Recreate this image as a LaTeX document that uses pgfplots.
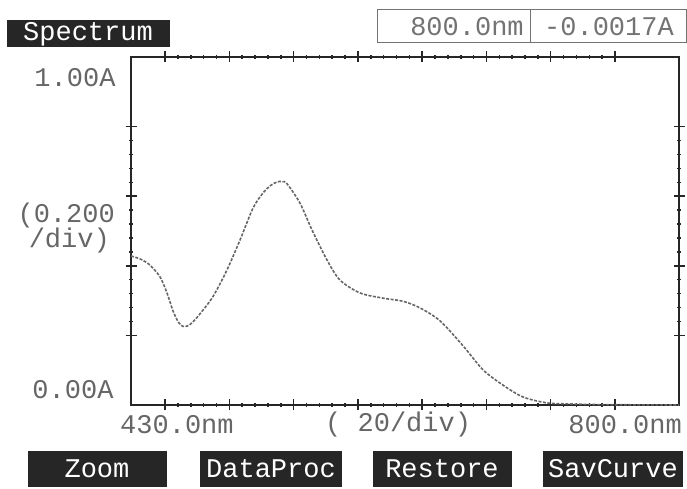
\documentclass[border=0pt]{standalone}
\usepackage{pgfplots}
\pgfplotsset{compat=1.18}
\usepackage{fontspec}
\setmainfont{Liberation Mono}
\setmonofont{Liberation Mono}

% absorbance scan
\pgfplotstableread{
nm     A
430.0  0.428
432.7  0.425
437.0  0.418
442.8  0.402
449.6  0.368
454.3  0.322
458.4  0.270
462.0  0.238
465.0  0.226
468.0  0.227
471.2  0.236
476.6  0.262
485.4  0.312
494.8  0.388
503.6  0.474
512.4  0.566
519.1  0.609
524.0  0.630
528.6  0.641
532.0  0.642
535.3  0.636
544.1  0.580
552.2  0.503
562.3  0.417
571.1  0.359
584.6  0.322
600.2  0.307
613.7  0.298
625.1  0.279
638.6  0.242
654.2  0.170
667.7  0.101
681.2  0.057
694.7  0.023
710.9  0.006
726.4  0.003
750.0  0.001
800.0  0.000
}\spectrum

\begin{document}
\begin{tikzpicture}[font=\fontsize{27}{30}\selectfont]
\useasboundingbox (0pt,0pt) rectangle (687pt,489pt);
\begin{axis}[
  at={(131pt,84pt)}, anchor=south west,
  scale only axis, width=548pt, height=348pt,
  xmin=430, xmax=800, ymin=0, ymax=1,
  xtick={453,496.4,539.8,583.2,626.6,670,713.4,756.8},
  ytick={0.2,0.4,0.6,0.8},
  xticklabels={}, yticklabels={},
  minor x tick num=4, minor y tick num=4,
  tick align=center,
  major tick length=11pt, minor tick length=4pt,
  every tick/.style={black!85, line width=1.5pt},
  axis line style={black!85, line width=1.5pt},
  clip=false,
]
\addplot[black!60, line width=1.6pt, dash pattern=on 3pt off 1.5pt, smooth, tension=0.5]
  table[x=nm, y=A] {\spectrum};
\end{axis}

% axis annotations
\begin{scope}[text=black!60]
\node[anchor=east] at (119pt,411pt) {1.00A};
\node[anchor=east, inner sep=0pt] at (115pt,273pt) {(0.200};
\node[anchor=east, inner sep=0pt] at (110pt,248pt) {/div)};
\node[anchor=east] at (117pt,99pt) {0.00A};
\node[anchor=west, inner sep=0pt] at (120pt,64pt) {430.0nm};
\node[anchor=west, inner sep=0pt] at (325pt,64pt) {( 20/div)};
\node[anchor=east, inner sep=0pt] at (682pt,64pt) {800.0nm};
\end{scope}

% header
\fill[black!85] (7pt,442pt) rectangle (170pt,469pt);
\node[text=white!85] at (88pt,455pt) {Spectrum};
\draw[black!55, line width=1pt] (377pt,446pt) rectangle (686pt,479pt);
\draw[black!55, line width=1pt] (530pt,446pt) -- (530pt,479pt);
\node[text=black!55] at (467pt,462pt) {800.0nm};
\node[text=black!55] at (609pt,462pt) {-0.0017A};

% soft keys
\fill[black!85] (28pt,2pt) rectangle (167pt,38pt);
\node[text=white!85] at (97pt,20pt) {Zoom};
\fill[black!85] (200pt,2pt) rectangle (342pt,38pt);
\node[text=white!85] at (271pt,20pt) {DataProc};
\fill[black!85] (373pt,2pt) rectangle (512pt,38pt);
\node[text=white!85] at (442pt,20pt) {Restore};
\fill[black!85] (543pt,2pt) rectangle (683pt,38pt);
\node[text=white!85] at (613pt,20pt) {SavCurve};
\end{tikzpicture}
\end{document}
